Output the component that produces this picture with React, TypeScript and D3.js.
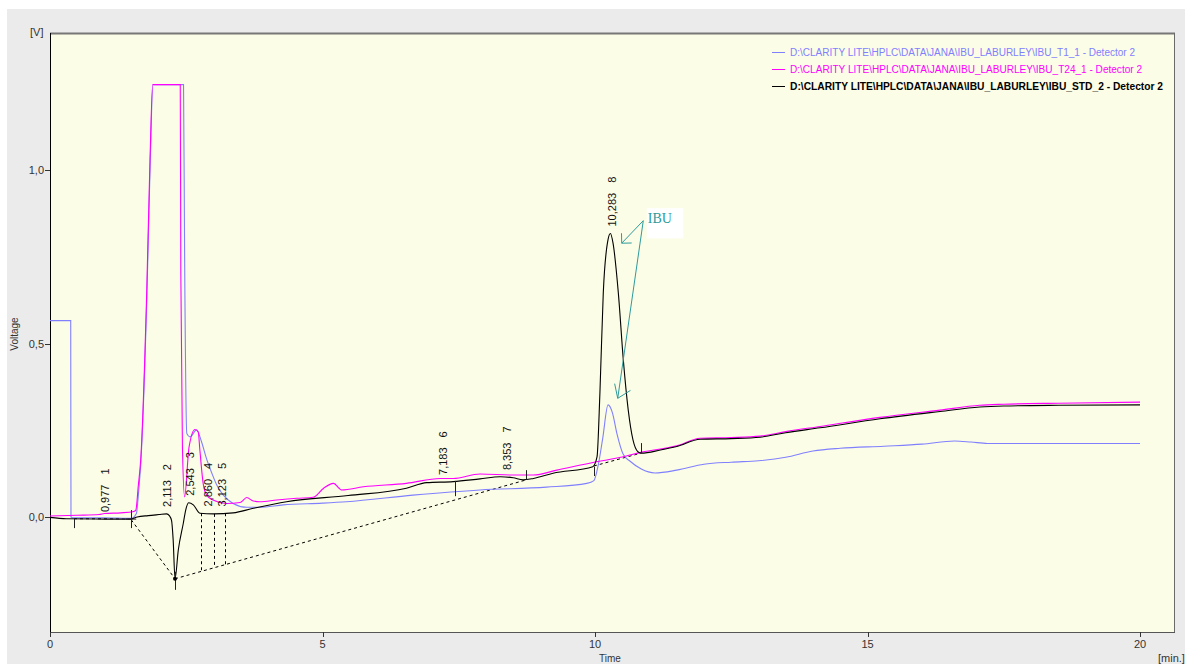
import React from 'react';
import * as d3 from 'd3';

const W = 1185;
const H = 664;

// Chromatogram traces: [time (min), voltage (V)]
const traceT1: [number, number][] = [
  [0, 0.566], [0.38, 0.566], [0.385, 0.0], [0.42, -0.002], [1.0, -0.002], [1.49, -0.004],
  [1.585, 0.01], [1.625, 0.07], [1.669, 0.164], [1.779, 0.645], [1.84, 1.03], [1.889, 1.246],
  [2.45, 1.246], [2.47, 0.75], [2.51, 0.241], [2.57, 0.231], [2.69, 0.251], [2.78, 0.217],
  [2.87, 0.169], [2.97, 0.126], [3.06, 0.092], [3.18, 0.063], [3.36, 0.039], [3.61, 0.028],
  [3.85, 0.028], [4.28, 0.035], [5.0, 0.04], [5.44, 0.044], [6.66, 0.063], [7.89, 0.078],
  [9.11, 0.086], [9.85, 0.097], [9.98, 0.105], [10.06, 0.15], [10.14, 0.225], [10.24, 0.323],
  [10.32, 0.3], [10.4, 0.242], [10.52, 0.18], [10.65, 0.16], [10.85, 0.138], [11.1, 0.127],
  [11.5, 0.135], [12.0, 0.152], [12.5, 0.158], [13.0, 0.162], [13.5, 0.172], [14.0, 0.19],
  [14.5, 0.198], [15.3, 0.204], [16.0, 0.21], [16.6, 0.219], [16.9, 0.216], [17.2, 0.212],
  [20.0, 0.212],
];

const traceT24: [number, number][] = [
  [0, 0.003], [0.5, 0.005], [0.9, 0.007], [1.0, 0.01], [1.3, 0.012], [1.52, 0.015],
  [1.575, 0.02], [1.62, 0.09], [1.664, 0.164], [1.774, 0.645], [1.835, 1.03], [1.884, 1.246],
  [2.39, 1.246], [2.40, 0.71], [2.43, 0.2], [2.47, 0.058], [2.55, 0.2], [2.66, 0.252],
  [2.72, 0.245], [2.75, 0.193], [2.81, 0.097], [2.875, 0.063], [2.99, 0.049], [3.24, 0.039],
  [3.49, 0.042], [3.61, 0.056], [3.73, 0.046], [3.85, 0.044], [4.16, 0.049], [4.53, 0.054],
  [4.83, 0.057], [5.02, 0.083], [5.2, 0.097], [5.35, 0.078], [5.75, 0.087], [6.54, 0.097],
  [7.16, 0.111], [7.4, 0.111], [7.89, 0.124], [8.5, 0.121], [8.87, 0.121], [9.3, 0.135],
  [10.03, 0.159], [10.5, 0.173], [10.86, 0.187], [11.5, 0.205], [11.93, 0.227], [12.5, 0.229],
  [13.03, 0.233], [13.5, 0.246], [14.13, 0.261], [15.23, 0.287], [16.33, 0.308], [17.06, 0.322],
  [17.5, 0.325], [18.5, 0.328], [20.0, 0.331],
];

const traceStd: [number, number][] = [
  [0, -0.001], [0.3, -0.005], [1.0, -0.006], [1.47, -0.006], [1.6, 0.0], [1.8, 0.004],
  [2.0, 0.007], [2.14, 0.009], [2.19, 0.004], [2.23, -0.01], [2.26, -0.066], [2.294, -0.178],
  [2.354, -0.095], [2.446, -0.018], [2.49, 0.02], [2.543, 0.041], [2.63, 0.035], [2.75, 0.011],
  [3.0, 0.009], [3.36, 0.012], [3.73, 0.025], [4.34, 0.044], [5.47, 0.062], [6.54, 0.083],
  [6.91, 0.099], [7.4, 0.102], [7.89, 0.11], [8.26, 0.116], [8.5, 0.113], [8.68, 0.107],
  [8.87, 0.111], [9.23, 0.126], [9.96, 0.145], [10.037, 0.173], [10.09, 0.357], [10.152, 0.646],
  [10.24, 0.8], [10.283, 0.817], [10.33, 0.79], [10.428, 0.646], [10.52, 0.452], [10.61, 0.308],
  [10.697, 0.222], [10.787, 0.188], [10.85, 0.184], [11.2, 0.193], [11.5, 0.203], [11.93, 0.224],
  [12.5, 0.226], [13.03, 0.23], [13.5, 0.243], [14.13, 0.257], [15.23, 0.283], [16.33, 0.304],
  [17.06, 0.317], [17.5, 0.32], [18.5, 0.322], [20.0, 0.323],
];

// Integration results for the standard run
const peakTimes = [0.977, 2.113, 2.543, 2.86, 3.123, 7.183, 8.353, 10.283];
const peakNumbers = ['1', '2', '3', '4', '5', '6', '7', '8'];
const peakApex = [-0.006, 0.009, 0.041, 0.01, 0.01, 0.101, 0.115, 0.817];

const baselineSegments: [number, number][][] = [
  [[0.44, -0.005], [1.49, -0.005]],
  [[1.49, -0.008], [2.294, -0.178]],
  [[2.294, -0.178], [8.74, 0.107]],
  [[9.98, 0.147], [10.84, 0.184]],
];
const dropLineTimes = [2.77, 3.0, 3.22];
const peakMarkers: [number, number, number][] = [
  [0.44, -0.003, -0.032],
  [1.49, 0.02, -0.032],
  [2.294, -0.158, -0.21],
  [7.43, 0.104, 0.06],
  [8.74, 0.135, 0.107],
  [9.98, 0.145, 0.118],
  [10.84, 0.213, 0.184],
];

// Axes
const xTicks = [0, 5, 10, 15, 20];
const yTicks = [0, 0.5, 1.0];

// Legend
const seriesNames = [
  'D:\\CLARITY LITE\\HPLC\\DATA\\JANA\\IBU_LABURLEY\\IBU_T1_1 - Detector 2',
  'D:\\CLARITY LITE\\HPLC\\DATA\\JANA\\IBU_LABURLEY\\IBU_T24_1 - Detector 2',
  'D:\\CLARITY LITE\\HPLC\\DATA\\JANA\\IBU_LABURLEY\\IBU_STD_2 - Detector 2',
];
const seriesColors = ['#8080ff', '#ff00ff', '#000000'];
const legendTextWidths = [345, 352, 373];

// IBU note: label anchor, box corners and arrow tips in data units
const noteText = 'IBU';
const noteAnchor: [number, number] = [10.97, 0.847];
const noteBox: [number, number][] = [[10.95, 0.89], [11.62, 0.803]];
const noteOrigin: [number, number] = [10.886, 0.854];
const noteTips: [number, number][] = [[10.49, 0.789], [10.417, 0.342]];
const noteHeadAngles: [number, number][] = [[-45, 45], [-20, 50]];
const noteHeadLengths = [10, 15];

const FONT = '"Liberation Sans", Arial, sans-serif';

const plot = { left: 50, top: 34, right: 1174, bottom: 632 };

function interpAt(data: [number, number][], t: number): number {
  const i = d3.bisector((d: [number, number]) => d[0]).left(data, t);
  if (i <= 0) return data[0][1];
  if (i >= data.length) return data[data.length - 1][1];
  const a = data[i - 1];
  const b = data[i];
  return a[1] + ((t - a[0]) / (b[0] - a[0])) * (b[1] - a[1]);
}

export default function App() {
  const x = d3.scaleLinear().domain([0, 20]).range([50, 1140]);
  const y = d3.scaleLinear().domain([0, 1]).range([517, 170]);
  const line = d3
    .line<[number, number]>()
    .x((d) => x(d[0]))
    .y((d) => y(d[1]))
    .curve(d3.curveMonotoneX);
  const seg = d3
    .line<[number, number]>()
    .x((d) => x(d[0]))
    .y((d) => y(d[1]));

  const longBase = baselineSegments[2];
  const fmt = (v: number) => d3.format('.3f')(v).replace('.', ',');

  const traces = [traceT1, traceT24, traceStd];

  const teal = '#2e9b9b';
  const [ox, oy] = [x(noteOrigin[0]), y(noteOrigin[1])];

  return (
    <svg
      width={W}
      height={H}
      style={{ position: 'absolute', left: 0, top: 0, background: '#ffffff' }}
      fontFamily={FONT}
    >
      <defs>
        <clipPath id="plotClip">
          <rect x={plot.left} y={plot.top} width={plot.right - plot.left} height={plot.bottom - plot.top} />
        </clipPath>
      </defs>
      <rect x={7} y={9} width={W - 7} height={H - 9} fill="#ebebeb" />
      <rect
        x={plot.left}
        y={plot.top}
        width={plot.right - plot.left}
        height={plot.bottom - plot.top}
        fill="#fcfde6"
      />

      {/* frame */}
      <line x1={plot.left} x2={plot.right + 1} y1={plot.top - 0.5} y2={plot.top - 0.5} stroke="#777" strokeWidth={2} />
      <line x1={plot.right + 0.5} x2={plot.right + 0.5} y1={plot.top - 1} y2={plot.bottom} stroke="#6a6a6a" strokeWidth={1} />
      <line x1={plot.left} x2={plot.right + 1} y1={plot.bottom + 0.5} y2={plot.bottom + 0.5} stroke="#555" strokeWidth={1} />
      <line x1={plot.left + 0.5} x2={plot.left + 0.5} y1={plot.top - 1} y2={plot.bottom + 1} stroke="#000" strokeWidth={1} />

      {/* x axis */}
      {xTicks.map((t) => (
        <g key={'xt' + t}>
          <line x1={Math.round(x(t)) + 0.5} x2={Math.round(x(t)) + 0.5} y1={plot.bottom} y2={plot.bottom + 5} stroke="#333" />
          <text x={x(t)} y={648} fontSize={11} textAnchor="middle" fill="#333">
            {String(t)}
          </text>
        </g>
      ))}
      <text x={610} y={662} fontSize={10} textAnchor="middle" fill="#333">Time</text>
      <text x={1158} y={662} fontSize={11} fill="#333">[min.]</text>

      {/* y axis */}
      {yTicks.map((v) => (
        <g key={'yt' + v}>
          <line x1={45} x2={plot.left} y1={Math.round(y(v)) + 0.5} y2={Math.round(y(v)) + 0.5} stroke="#333" />
          <text x={44} y={y(v) + 4} fontSize={11} textAnchor="end" fill="#333">
            {d3.format('.1f')(v).replace('.', ',')}
          </text>
        </g>
      ))}
      <text x={30} y={36} fontSize={11} fill="#333">[V]</text>
      <text transform={`translate(18,334) rotate(-90)`} fontSize={10} textAnchor="middle" fill="#333">
        Voltage
      </text>

      <g clipPath="url(#plotClip)">
        {/* integration baselines */}
        {baselineSegments.map((s, i) => (
          <path key={'bl' + i} d={seg(s) || ''} fill="none" stroke="#000" strokeDasharray="3,3" strokeWidth={1} />
        ))}
        {dropLineTimes.map((t, i) => {
          const top = interpAt(traceStd, t);
          const bot = interpAt(longBase, t);
          return (
            <line
              key={'dl' + i}
              x1={Math.round(x(t)) + 0.5}
              x2={Math.round(x(t)) + 0.5}
              y1={y(top)}
              y2={y(bot)}
              stroke="#000"
              strokeDasharray="3,3"
            />
          );
        })}

        {/* traces */}
        {traces.map((d, i) => (
          <path key={'tr' + i} d={line(d) || ''} fill="none" stroke={seriesColors[i]} strokeWidth={1.1} />
        ))}

        {/* peak markers */}
        {peakMarkers.map(([t, a, b], i) => (
          <line
            key={'pm' + i}
            x1={Math.round(x(t)) + 0.5}
            x2={Math.round(x(t)) + 0.5}
            y1={y(a)}
            y2={y(b)}
            stroke="#222"
            strokeWidth={1}
          />
        ))}
        <line x1={x(1.49) - 5} x2={x(1.49) + 5} y1={y(-0.006)} y2={y(-0.006)} stroke="#222" />
        <circle cx={x(2.294)} cy={y(-0.178)} r={2} fill="#000" />
      </g>

      {/* peak labels */}
      {peakTimes.map((t, i) => (
        <text
          key={'pl' + i}
          transform={`translate(${x(t) + 2},${y(peakApex[i]) - 7}) rotate(-90)`}
          fontSize={11}
          fill="#111"
          dy="0.35em"
        >
          <tspan>{fmt(t)}</tspan>
          <tspan dx={10}>{peakNumbers[i]}</tspan>
        </text>
      ))}

      {/* IBU note */}
      <rect
        x={x(noteBox[0][0])}
        y={y(noteBox[0][1])}
        width={x(noteBox[1][0]) - x(noteBox[0][0])}
        height={y(noteBox[1][1]) - y(noteBox[0][1])}
        fill="#ffffff"
      />
      <text
        x={x(noteAnchor[0])}
        y={y(noteAnchor[1])}
        fontSize={14}
        fontFamily='"Liberation Serif", "Times New Roman", serif'
        fill={teal}
      >
        {noteText}
      </text>
      {noteTips.map((tip, i) => {
        const tx = x(tip[0]);
        const ty = y(tip[1]);
        const back = Math.atan2(oy - ty, ox - tx);
        const legs = noteHeadAngles[i].map((deg) => {
          const a = back + (deg * Math.PI) / 180;
          return [tx + noteHeadLengths[i] * Math.cos(a), ty + noteHeadLengths[i] * Math.sin(a)];
        });
        return (
          <g key={'ar' + i} stroke={teal} strokeWidth={1} fill="none">
            <line x1={ox} y1={oy} x2={tx} y2={ty} />
            <line x1={tx} y1={ty} x2={legs[0][0]} y2={legs[0][1]} />
            <line x1={tx} y1={ty} x2={legs[1][0]} y2={legs[1][1]} />
          </g>
        );
      })}

      {/* legend */}
      {seriesNames.map((name, i) => {
        const ly = 52 + i * 17;
        return (
          <g key={'lg' + i}>
            <line x1={772} x2={785} y1={ly + 0.5} y2={ly + 0.5} stroke={seriesColors[i]} />
            <text
              x={790}
              y={ly + 4}
              fontSize={10}
              fill={seriesColors[i]}
              fontWeight={i === 2 ? 'bold' : 'normal'}
              textLength={legendTextWidths[i]}
              lengthAdjust="spacingAndGlyphs"
            >
              {name}
            </text>
          </g>
        );
      })}
    </svg>
  );
}
